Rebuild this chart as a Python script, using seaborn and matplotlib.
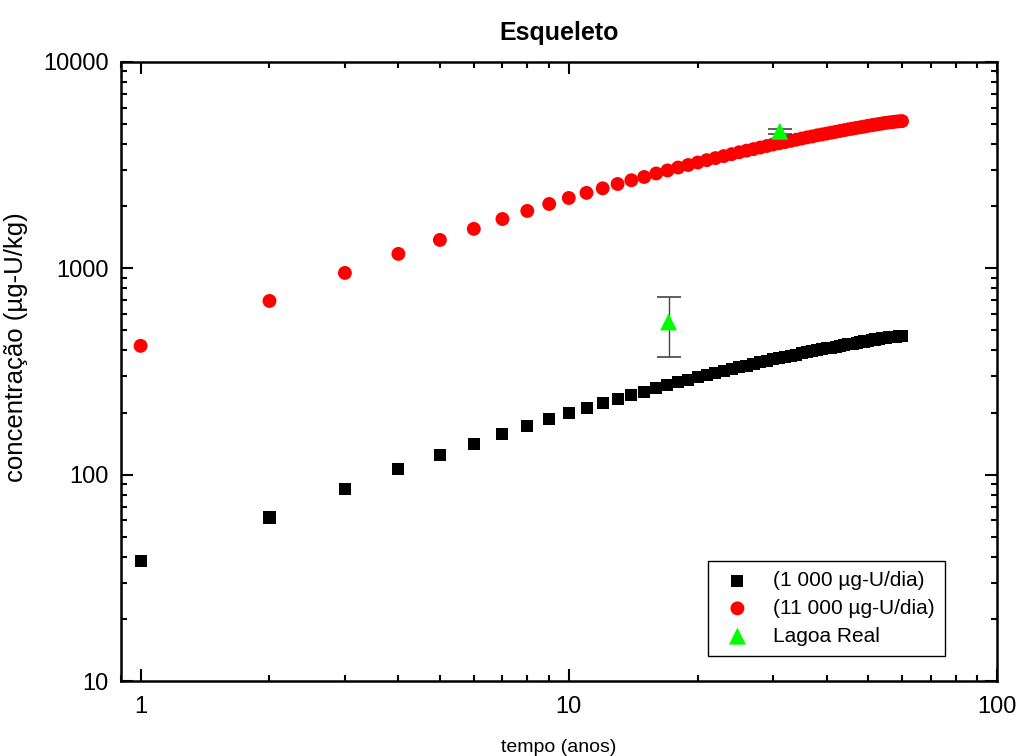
import matplotlib
matplotlib.use("Agg")
import matplotlib.pyplot as plt
import matplotlib.ticker as mticker
import seaborn as sns
import pandas as pd

years = list(range(1, 61))
dose_1000 = [38, 62, 85, 106, 124, 141, 157, 172, 186, 199,
             211, 222, 233, 243, 252, 262, 271, 280, 288, 296,
             304, 311, 318, 325, 332, 338, 344, 350, 356, 362,
             367, 372, 377, 382, 387, 392, 396, 401, 405, 409,
             413, 417, 421, 425, 429, 432, 436, 439, 442, 446,
             449, 452, 455, 458, 461, 463, 465, 467, 469, 470]
dose_11000 = [421, 695, 950, 1175, 1373, 1553, 1734, 1897, 2051, 2193,
              2321, 2442, 2563, 2673, 2772, 2882, 2981, 3080, 3168, 3256,
              3344, 3421, 3498, 3575, 3652, 3718, 3784, 3850, 3916, 3982,
              4037, 4092, 4147, 4202, 4257, 4312, 4356, 4411, 4455, 4499,
              4543, 4587, 4631, 4675, 4719, 4752, 4796, 4829, 4862, 4906,
              4939, 4972, 5005, 5038, 5071, 5093, 5115, 5137, 5159, 5170]
lagoa_x = [17.1, 31.1]
lagoa_y = [550, 4620]
lagoa_err = [180, 130]

labels = ["(1 000 µg-U/dia)", "(11 000 µg-U/dia)", "Lagoa Real"]

sns.set_theme(style="ticks")
plt.rcParams["font.family"] = ["Liberation Sans", "DejaVu Sans"]

fig = plt.figure(figsize=(10.21, 7.56), dpi=100)
ax = fig.add_axes([121 / 1021, 1 - 681 / 756, 876 / 1021, 619 / 756])

df1 = pd.DataFrame({"x": years, "y": dose_1000})
df2 = pd.DataFrame({"x": years, "y": dose_11000})
df3 = pd.DataFrame({"x": lagoa_x, "y": lagoa_y})

ax.set_xscale("log")
ax.set_yscale("log")

sns.scatterplot(data=df1, x="x", y="y", ax=ax, marker="s", s=75, color="black",
                edgecolor="none", label=labels[0], zorder=3)
sns.scatterplot(data=df2, x="x", y="y", ax=ax, marker="o", s=100, color="#ff0000",
                edgecolor="none", label=labels[1], zorder=3)
ax.errorbar(lagoa_x, lagoa_y, yerr=lagoa_err, fmt="none", ecolor="#444444",
            elinewidth=1.0, capsize=8.5, capthick=1.2, zorder=4)
sns.scatterplot(data=df3, x="x", y="y", ax=ax, marker="^", s=150, color="#00ff00",
                edgecolor="none", label=labels[2], zorder=5)

ax.set_xlim(0.9, 100)
ax.set_ylim(10, 10000)

ax.xaxis.set_major_locator(mticker.FixedLocator([1, 10, 100]))
ax.xaxis.set_major_formatter(mticker.FixedFormatter(["1", "10", "100"]))
ax.xaxis.set_minor_locator(mticker.LogLocator(base=10, subs=range(2, 10)))
ax.xaxis.set_minor_formatter(mticker.NullFormatter())
ax.yaxis.set_major_locator(mticker.FixedLocator([10, 100, 1000, 10000]))
ax.yaxis.set_major_formatter(mticker.FixedFormatter(["10", "100", "1000", "10000"]))
ax.yaxis.set_minor_locator(mticker.LogLocator(base=10, subs=range(2, 10)))
ax.yaxis.set_minor_formatter(mticker.NullFormatter())

ax.tick_params(which="both", direction="in", top=True, right=True, color="black", width=1.5)
ax.tick_params(which="major", length=8.5, labelsize=17, labelcolor="black")
ax.tick_params(axis="y", which="major", pad=9)
ax.tick_params(axis="x", which="major", pad=11)
ax.tick_params(which="minor", length=4.5)
for sp in ax.spines.values():
    sp.set_visible(True)
    sp.set_linewidth(1.8)
    sp.set_color("black")

ax.set_xlabel("tempo (anos)", fontsize=14, labelpad=15, color="black")
ax.set_ylabel("concentração (µg-U/kg)", fontsize=18.5, color="black")
ax.yaxis.set_label_coords((28 - 121) / 876, (681 - 347) / 619)
ax.set_title("Esqueleto", fontsize=18, fontweight="bold", pad=16, color="black")

leg = ax.legend(loc="lower right", bbox_to_anchor=((945 - 121) / 876, (681 - 656) / 619),
                borderaxespad=0, fontsize=15, frameon=True, fancybox=False,
                framealpha=1, edgecolor="black", labelspacing=0.42,
                handletextpad=0.78, borderpad=0.5, handlelength=1.85,
                labelcolor="black")
leg.get_frame().set_linewidth(1.0)

fig.savefig("out.png", dpi=100, facecolor="white")
